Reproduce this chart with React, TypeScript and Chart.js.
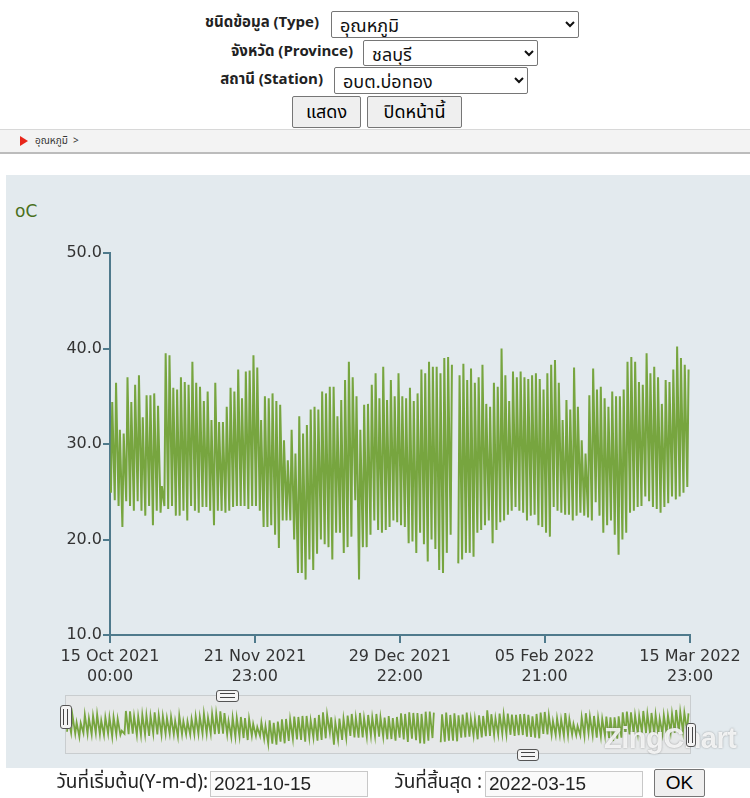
import React, { useEffect, useRef } from "react";
import { Chart, registerables } from "chart.js";

Chart.register(...registerables);

// Daily highs and lows (°C), one entry per day from 15 Oct 2021 to 15 Mar 2022.
// null marks the day with no readings.
const dailyMax: (number | null)[] = [
  34.4, 36.4, 31.5, 31.1, 37.0, 34.4, 36.2, 37.2, 32.8, 35.1,
  35.1, 35.3, 34.0, 25.6, 39.5, 39.3, 35.9, 35.7, 37.0, 36.5,
  36.2, 38.6, 36.4, 36.0, 34.5, 35.5, 32.5, 36.4, 32.3, 32.3,
  33.9, 35.9, 35.5, 37.8, 34.8, 37.6, 37.7, 39.3, 38.0, 32.5,
  35.0, 34.8, 35.3, 34.5, 34.1, 30.4, 28.3, 31.5, 29.0, 32.9,
  31.1, 32.0, 33.6, 33.9, 33.6, 35.5, 35.3, 36.0, 36.0, 32.9,
  34.6, 36.7, 38.6, 37.0, 35.0, 31.5, 34.1, 34.2, 36.2, 37.4,
  34.8, 38.1, 34.6, 36.7, 35.0, 37.4, 35.0, 34.8, 35.9, 34.5,
  35.3, 37.8, 37.4, 38.6, 38.1, 38.1, 37.4, 39.0, 39.1, 38.3,
  null, 37.2, 38.4, 36.7, 37.9, 36.4, 37.0, 38.3, 34.2, 33.9,
  36.4, 36.0, 40.0, 37.2, 34.5, 37.6, 37.0, 37.6, 37.0, 36.8,
  37.2, 37.4, 36.8, 35.7, 37.4, 38.3, 38.8, 36.4, 32.5, 34.6,
  33.6, 38.0, 33.9, 30.4, 29.0, 35.1, 37.9, 35.7, 36.0, 34.8,
  33.9, 35.5, 35.0, 35.0, 35.7, 38.6, 39.1, 38.6, 36.5, 36.2,
  39.5, 37.4, 38.1, 37.0, 34.2, 36.7, 36.5, 37.8, 40.2, 39.0,
  38.3, 37.8,
];

const dailyMin: (number | null)[] = [
  24.9, 24.1, 23.5, 21.3, 24.0, 23.5, 23.0, 24.0, 23.0, 22.5,
  23.5, 21.5, 23.0, 22.8, 23.5, 23.2, 23.5, 22.5, 22.5, 23.0,
  22.0, 23.5, 23.0, 22.8, 23.4, 23.4, 23.0, 21.5, 23.0, 23.0,
  22.8, 23.0, 23.4, 23.5, 23.5, 23.5, 23.2, 23.5, 23.5, 23.0,
  21.3, 21.3, 21.5, 20.5, 19.1, 22.0, 22.0, 22.0, 20.0, 16.5,
  16.5, 15.8, 17.9, 16.8, 18.5, 20.0, 19.5, 19.2, 17.9, 20.7,
  20.7, 18.6, 19.2, 20.3, 24.1, 15.8, 19.2, 19.2, 20.5, 22.0,
  21.0, 20.7, 21.0, 21.3, 22.0, 21.8, 21.5, 21.3, 19.6, 19.8,
  18.6, 20.7, 19.5, 17.7, 20.0, 19.0, 16.8, 16.5, 18.6, 20.5,
  null, 17.5, 17.9, 18.6, 18.6, 18.2, 20.7, 21.0, 21.5, 22.0,
  19.6, 21.0, 21.8, 22.0, 22.6, 23.0, 23.4, 23.0, 22.8, 22.0,
  22.5, 22.6, 21.5, 21.3, 20.7, 20.3, 23.4, 23.0, 22.8, 22.6,
  22.6, 22.0, 22.5, 22.8, 22.5, 22.3, 22.0, 23.9, 22.5, 20.7,
  21.5, 22.0, 20.5, 18.4, 20.0, 20.7, 22.8, 23.0, 23.4, 23.5,
  24.5, 24.0, 23.4, 23.2, 22.8, 23.4, 23.8, 24.5, 24.2, 24.5,
  24.9, 25.5,
];

// Hour of the day at which the low and the high are plotted
const LOW_HOUR = 6;
const HIGH_HOUR = 14;

// x axis runs in hours from 15 Oct 2021 00:00 to 15 Mar 2022 23:00
const xRange = [0, 3647];
const xTickHours = [0, 911, 1822, 2733, 3647];
const xTickLabels = [
  ["15 Oct 2021", "00:00"],
  ["21 Nov 2021", "23:00"],
  ["29 Dec 2021", "22:00"],
  ["05 Feb 2022", "21:00"],
  ["15 Mar 2022", "23:00"],
];
const yRange = [10, 50];
const yTicks = [10, 20, 30, 40, 50];

const LINE = "#77a53f";
const AXIS = "#4f7a8c";
const TICK_FONT = { family: '"DejaVu Sans", sans-serif', size: 16, lineHeight: 1.25 };

function buildSeries() {
  const pts: { x: number; y: number | null }[] = [];
  dailyMin.forEach((lo, d) => {
    pts.push({ x: d * 24 + LOW_HOUR, y: lo });
    pts.push({ x: d * 24 + HIGH_HOUR, y: dailyMax[d] });
  });
  return pts;
}

const THAI = 'Tahoma, "Noto Sans Thai", "Leelawadee UI", "Liberation Sans", sans-serif';
const ARIAL = '"Liberation Sans", Arial, sans-serif';

const abs = (s: React.CSSProperties): React.CSSProperties => ({ position: "absolute", ...s });

function Label({ right, top, text, size = 15, bold = true }: { right: number; top: number; text: string; size?: number; bold?: boolean }) {
  return (
    <div style={abs({ right: 750 - right, top, fontSize: size, fontWeight: bold ? 700 : 400, whiteSpace: "nowrap", color: "#222", lineHeight: "22px" })}>
      {text}
    </div>
  );
}

function Select({ left, top, width, height, text }: { left: number; top: number; width: number; height: number; text: string }) {
  return (
    <select
      defaultValue={text}
      style={abs({ left, top, width, height, fontSize: 18, fontFamily: THAI, border: "1px solid #767676", borderRadius: 2, background: "#fff", color: "#111", padding: "0 4px", boxSizing: "border-box" })}
    >
      <option value={text}>{text}</option>
    </select>
  );
}

function Handle({ left, top, width, height, vertical }: { left: number; top: number; width: number; height: number; vertical: boolean }) {
  const bar = vertical
    ? { width: 1, height: height - 8, borderLeft: "1px solid #444" }
    : { width: width - 8, height: 1, borderTop: "1px solid #444" };
  return (
    <div
      style={abs({
        left, top, width, height, boxSizing: "border-box", background: "#f4f4f4",
        border: "1px solid #555", borderRadius: 3, display: "flex",
        flexDirection: vertical ? "row" : "column", alignItems: "center", justifyContent: "center", gap: 2,
      })}
    >
      <div style={bar} />
      <div style={bar} />
    </div>
  );
}

export default function App() {
  const mainRef = useRef<HTMLCanvasElement>(null);
  const navRef = useRef<HTMLCanvasElement>(null);

  useEffect(() => {
    const series = buildSeries();

    const main = new Chart(mainRef.current!, {
      type: "line",
      data: {
        datasets: [
          { data: series, borderColor: LINE, borderWidth: 2, pointRadius: 0, tension: 0, spanGaps: false },
        ],
      },
      options: {
        animation: false,
        responsive: false,
        events: [],
        layout: { padding: { top: 78, right: 60, bottom: 0, left: 0 } },
        plugins: { legend: { display: false }, tooltip: { enabled: false } },
        scales: {
          x: {
            type: "linear",
            min: xRange[0],
            max: xRange[1],
            afterBuildTicks: (s: any) => {
              s.ticks = xTickHours.map((v) => ({ value: v }));
            },
            afterFit: (s: any) => {
              s.height = 60;
            },
            ticks: {
              autoSkip: false,
              maxRotation: 0,
              padding: 4,
              color: "#333",
              font: TICK_FONT,
              callback: (_v: any, i: number) => xTickLabels[i],
            },
            grid: { drawOnChartArea: false, tickLength: 8, color: AXIS, lineWidth: 2 },
            border: { color: AXIS, width: 2 },
          },
          y: {
            type: "linear",
            min: yRange[0],
            max: yRange[1],
            afterBuildTicks: (s: any) => {
              s.ticks = yTicks.map((v) => ({ value: v }));
            },
            afterFit: (s: any) => {
              s.width = 105;
            },
            ticks: {
              padding: 1,
              color: "#333",
              font: TICK_FONT,
              callback: (v: any) => Number(v).toFixed(1),
            },
            grid: { drawOnChartArea: false, tickLength: 7, color: AXIS, lineWidth: 2 },
            border: { color: AXIS, width: 2 },
          },
        },
      },
    });

    const nav = new Chart(navRef.current!, {
      type: "line",
      data: {
        datasets: [
          { data: series, borderColor: LINE, borderWidth: 1.8, pointRadius: 0, tension: 0, spanGaps: false },
        ],
      },
      options: {
        animation: false,
        responsive: false,
        events: [],
        layout: { padding: 0 },
        plugins: { legend: { display: false }, tooltip: { enabled: false } },
        scales: {
          x: { type: "linear", display: false, min: xRange[0], max: xRange[1] },
          y: { type: "linear", display: false, min: yRange[0], max: yRange[1] },
        },
      },
    });

    return () => {
      main.destroy();
      nav.destroy();
    };
  }, []);

  return (
    <div style={{ position: "fixed", left: 0, top: 0, width: 750, height: 798, overflow: "hidden", background: "#fff", fontFamily: THAI }}>
      {/* selection form */}
      <Label right={319} top={12} text="ชนิดข้อมูล (Type)" />
      <Select left={331} top={11} width={248} height={27} text="อุณหภูมิ" />
      <Label right={353} top={41} text="จังหวัด (Province)" />
      <Select left={363} top={40} width={175} height={26} text="ชลบุรี" />
      <Label right={323} top={69} text="สถานี (Station)" />
      <Select left={334} top={67} width={194} height={27} text="อบต.บ่อทอง" />
      <button style={abs({ left: 292, top: 96, width: 69, height: 32, fontSize: 18, fontFamily: THAI, background: "#efefef", border: "1px solid #767676", borderRadius: 2, padding: 0 })}>
        แสดง
      </button>
      <button style={abs({ left: 367, top: 96, width: 95, height: 32, fontSize: 18, fontFamily: THAI, background: "#efefef", border: "1px solid #767676", borderRadius: 2, padding: 0 })}>
        ปิดหน้านี้
      </button>

      {/* breadcrumb bar */}
      <div style={abs({ left: 0, top: 129, width: 750, height: 22, background: "#f3f3f3", borderTop: "1px solid #d8d8d8", borderBottom: "2px solid #bcbcbc" })} />
      <div style={abs({ left: 20, top: 136, width: 0, height: 0, borderTop: "5px solid transparent", borderBottom: "5px solid transparent", borderLeft: "8px solid #e8261b" })} />
      <div style={abs({ left: 35, top: 134, fontSize: 10, color: "#333", lineHeight: "14px", whiteSpace: "nowrap" })}>อุณหภูมิ &nbsp;&gt;</div>

      {/* chart panel */}
      <div style={abs({ left: 6, top: 175, width: 744, height: 593, background: "#e3eaee" })} />
      <div style={abs({ left: 15, top: 201, fontSize: 17, color: "#4a701c", fontFamily: '"DejaVu Sans", sans-serif', lineHeight: "20px" })}>oC</div>
      <canvas ref={mainRef} width={745} height={520} style={abs({ left: 5, top: 175, width: 745, height: 520 })} />

      {/* range navigator */}
      <div style={abs({ left: 65, top: 695, width: 626, height: 59, boxSizing: "border-box", background: "#e6e8e9", border: "1px solid #c9cdcf" })} />
      <canvas ref={navRef} width={624} height={57} style={abs({ left: 66, top: 696, width: 624, height: 57 })} />
      <div style={abs({ left: 604, top: 722, fontSize: 29, fontWeight: 700, fontFamily: ARIAL, color: "rgba(255,255,255,0.85)", textShadow: "0 0 2px rgba(90,90,90,0.6)", whiteSpace: "nowrap", letterSpacing: -0.5 })}>
        ZingChart
      </div>
      <Handle left={60} top={705} width={12} height={24} vertical />
      <Handle left={686} top={723} width={10} height={24} vertical />
      <Handle left={216} top={690} width={23} height={12} vertical={false} />
      <Handle left={517} top={749} width={22} height={12} vertical={false} />

      {/* date range inputs */}
      <Label right={208} top={772} text="วันที่เริ่มต้น(Y-m-d):" size={19} bold={false} />
      <input readOnly value="2021-10-15" style={abs({ left: 210, top: 771, width: 158, height: 26, boxSizing: "border-box", fontSize: 19, fontFamily: ARIAL, border: "1px solid #c8c8c8", background: "#fafafa", padding: "0 3px", color: "#222" })} />
      <Label right={482} top={772} text="วันที่สิ้นสุด :" size={19} bold={false} />
      <input readOnly value="2022-03-15" style={abs({ left: 485, top: 771, width: 158, height: 26, boxSizing: "border-box", fontSize: 19, fontFamily: ARIAL, border: "1px solid #c8c8c8", background: "#fafafa", padding: "0 3px", color: "#222" })} />
      <button style={abs({ left: 654, top: 769, width: 51, height: 28, fontSize: 19, fontFamily: ARIAL, background: "#efefef", border: "1px solid #767676", borderRadius: 2, padding: 0 })}>
        OK
      </button>
    </div>
  );
}
